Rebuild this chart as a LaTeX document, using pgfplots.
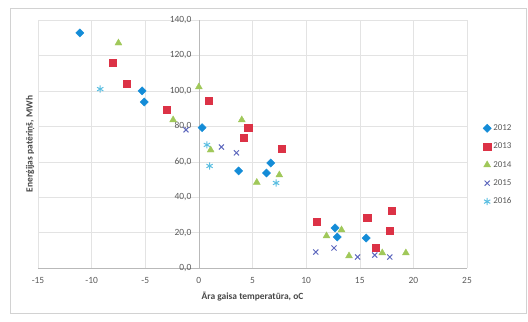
\documentclass[border=0pt]{standalone}
\usepackage{fontspec}
\setmainfont{Carlito}
\usepackage{pgfplots}
\pgfplotsset{compat=1.18}
\definecolor{c12}{RGB}{20,140,215}
\definecolor{c13}{RGB}{220,50,70}
\definecolor{c14}{RGB}{160,200,90}
\definecolor{c15}{RGB}{95,105,190}
\definecolor{c16}{RGB}{90,190,225}
\definecolor{tick}{RGB}{89,89,89}
\begin{document}
\begin{tikzpicture}
\path[use as bounding box] (0bp,0bp) rectangle (528bp,322bp);
\draw[gray!35] (10bp,9bp) rectangle (526bp,314bp);
\begin{axis}[
  at={(38bp,54bp)}, anchor=south west,
  scale only axis, width=429bp, height=248bp,
  xmin=-15, xmax=25, ymin=0, ymax=140,
  xtick={-15,-10,...,25}, ytick={0,20,...,140},
  axis x line=bottom, axis y line=middle,
  axis line style={-, draw=gray!55},
  hide obscured x ticks=false, hide obscured y ticks=false,
  major tick length=0pt,
  grid=major, grid style={draw=gray!22},
  tick label style={font=\fontsize{9.5}{11}\selectfont, text=tick},
  /pgf/number format/assume math mode=true,
  xticklabel style={yshift=-6bp},
  yticklabel style={xshift=-4bp, /pgf/number format/.cd, fixed, fixed zerofill, precision=1, use comma},
  xlabel={Āra gaisa temperatūra, oC},
  ylabel={Enerģijas patēriņš, MWh},
  every axis x label/.style={at={(axis description cs:0.5,0)}, anchor=center, yshift=-29bp, font=\bfseries\fontsize{9.5}{11}\selectfont, text=tick!80!black},
  every axis y label/.style={at={(axis description cs:-0.018,0.5)}, anchor=center, rotate=90, font=\bfseries\fontsize{9.5}{11}\selectfont, text=tick!80!black},
  legend style={at={(axis description cs:1.03,0.595)}, anchor=north west, draw=none, fill=none,
    font=\fontsize{9}{11}\selectfont, text=tick, row sep=7bp},
  legend cell align=left,
  legend image code/.code={\draw[mark repeat=1,mark phase=1,#1] plot coordinates {(0.12cm,0cm)};},
]
\addplot[only marks, mark=square*, mark size=2.9bp, mark options={rotate=45}, color=c12] coordinates {
(-11.1,132.7) (-5.3,100) (-5.1,93.7) (0.3,79.2) (3.7,54.8) (6.7,59.3) (6.3,53.6)
(12.7,22.6) (12.9,17.5) (15.6,16.9)};
\addlegendentry{2012}
\addplot[only marks, mark=square*, mark size=3.6bp, color=c13] coordinates {
(-8.0,115.8) (-6.7,103.9) (-3.0,89.5) (0.9,94.3) (4.6,79.0) (4.2,73.4) (7.7,67.2)
(11.0,26) (15.7,28.2) (18.0,32.2) (17.8,20.9) (16.5,11.3)};
\addlegendentry{2013}
\addplot[only marks, mark=triangle*, mark size=4bp, color=c14] coordinates {
(-7.5,127) (0,102.2) (-2.4,83.6) (4.0,83.6) (1.1,66.6) (5.4,48.3) (7.5,52.5)
(11.9,18.1) (13.3,21.5) (14.0,6.8) (17.1,8.5) (19.3,8.5)};
\addlegendentry{2014}
\addplot[only marks, mark=x, mark size=3.6bp, line width=1pt, color=c15] coordinates {
(-1.2,78) (2.1,68.3) (3.5,65) (10.9,9) (12.6,11.3) (14.8,6.2) (16.4,7.3) (17.8,6.2)};
\addlegendentry{2015}
\addplot[only marks, mark=asterisk, mark size=3.6bp, line width=1pt, color=c16] coordinates {
(-9.2,101) (0.75,69.5) (1.0,57.6) (7.2,48)};
\addlegendentry{2016}
\end{axis}
\end{tikzpicture}
\end{document}
